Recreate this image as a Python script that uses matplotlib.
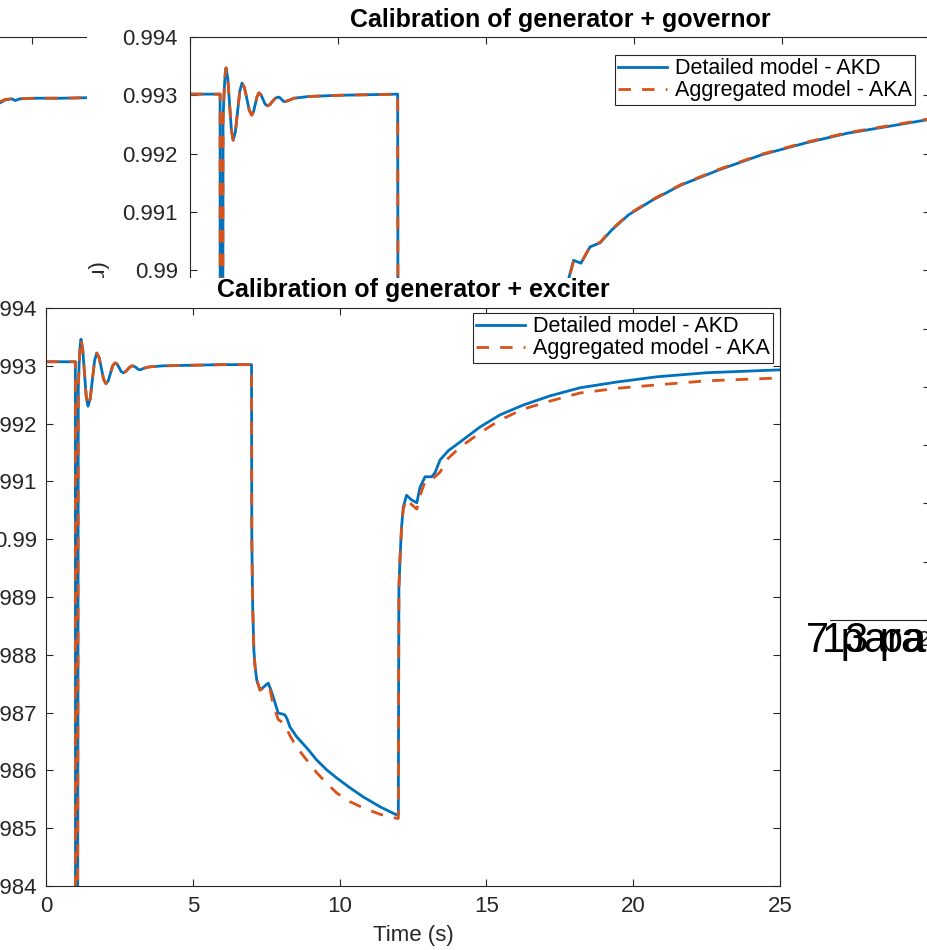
import matplotlib
matplotlib.use('Agg')
import matplotlib.pyplot as plt
from matplotlib.patches import Rectangle

plt.rcParams['font.family'] = ['Liberation Sans', 'DejaVu Sans']

# ---------------- data ----------------
x_ticks = [0, 5, 10, 15, 20, 25]
x_tick_labels = ['0', '5', '10', '15', '20', '25']
y_ticks = [0.984, 0.985, 0.986, 0.987, 0.988, 0.989, 0.990, 0.991, 0.992, 0.993, 0.994]
y_tick_labels = ['0.984', '0.985', '0.986', '0.987', '0.988', '0.989', '0.99',
                 '0.991', '0.992', '0.993', '0.994']
series_labels = ['Detailed model - AKD', 'Aggregated model - AKA']
title_front = 'Calibration of generator + exciter'
title_back = 'Calibration of generator + governor'
x_label = 'Time (s)'
y_label = 'Frequency (pu)'
overlay_texts = ['7 parameters', '13 parameters']

# generator + exciter (front figure)
t_exc = [0, 1.0, 1.01, 1.06, 1.10, 1.13, 1.16, 1.19, 1.25, 1.31, 1.37, 1.43, 1.505, 1.58,
         1.655, 1.73, 1.81, 1.885, 1.96, 2.04, 2.12, 2.195, 2.27, 2.35, 2.42, 2.49, 2.56,
         2.63, 2.71, 2.785, 2.86, 2.94, 3.005, 3.07, 3.135, 3.20, 3.35, 3.50, 4.0, 5.0,
         6.0, 7.0, 7.01, 7.04, 7.08, 7.12, 7.18, 7.29, 7.43, 7.57, 7.64, 7.74, 7.83, 7.91,
         8.02, 8.14, 8.22, 8.31, 8.54, 8.88, 9.22, 9.56, 9.90, 10.35, 10.81, 11.38, 11.94,
         12.0, 12.02, 12.06, 12.11, 12.17, 12.28, 12.45, 12.63, 12.74, 12.91, 13.14,
         13.25, 13.42, 13.7, 14.1, 14.78, 15.46, 16.25, 17.17, 18.19, 19.45, 20.81,
         22.5, 25.0]
exc_akd = [0.99307, 0.99307, 0.975, 0.975, 0.9926, 0.99305, 0.99332, 0.99346, 0.99329,
           0.99288, 0.99247, 0.99230, 0.99243, 0.99276, 0.99309, 0.99322, 0.99314,
           0.99296, 0.99277, 0.99269, 0.99274, 0.99287, 0.99300, 0.99305, 0.99303,
           0.99297, 0.99290, 0.99288, 0.99290, 0.99294, 0.99298, 0.99300, 0.99299,
           0.99297, 0.99294, 0.99293, 0.99296, 0.99298, 0.99300, 0.99301, 0.99302,
           0.99302, 0.98999, 0.98883, 0.98808, 0.98780, 0.98756, 0.98739, 0.98745,
           0.98751, 0.98742, 0.98727, 0.98712, 0.98699, 0.98698, 0.98696, 0.98688,
           0.98675, 0.98658, 0.98639, 0.98618, 0.98601, 0.98587, 0.98570, 0.98554,
           0.98537, 0.98523, 0.98523, 0.98916, 0.98969, 0.99021, 0.99056, 0.99076,
           0.99068, 0.99063, 0.99090, 0.99108, 0.99108, 0.99115, 0.99137, 0.99153,
           0.99168, 0.99194, 0.99215, 0.99232, 0.99248, 0.99262, 0.99272, 0.99281,
           0.99288, 0.99293]
exc_aka = [0.99307, 0.99307, 0.975, 0.975, 0.9926, 0.99305, 0.99332, 0.99346, 0.99329,
           0.99288, 0.99247, 0.99230, 0.99243, 0.99276, 0.99309, 0.99322, 0.99314,
           0.99296, 0.99277, 0.99269, 0.99274, 0.99287, 0.99300, 0.99305, 0.99303,
           0.99297, 0.99290, 0.99288, 0.99290, 0.99294, 0.99298, 0.99300, 0.99299,
           0.99297, 0.99294, 0.99293, 0.99296, 0.99298, 0.99300, 0.99301, 0.99302,
           0.99302, 0.98999, 0.98883, 0.98808, 0.98780, 0.98756, 0.98739, 0.98743,
           0.98748, 0.98738, 0.98712, 0.98700, 0.98688, 0.98684, 0.98678, 0.98670,
           0.98660, 0.98640, 0.98618, 0.98596, 0.98578, 0.98561, 0.98546, 0.98535,
           0.98524, 0.98517, 0.98517, 0.98916, 0.98969, 0.99020, 0.99052, 0.99070,
           0.99060, 0.99052, 0.99075, 0.99100, 0.99103, 0.99108, 0.99116, 0.99140,
           0.99159, 0.99184, 0.99206, 0.99225, 0.99239, 0.99253, 0.99261, 0.99267,
           0.99274, 0.99279]

# generator + governor (back figure)
t_gov = [0, 1.0, 1.01, 1.06, 1.10, 1.14, 1.17, 1.20, 1.26, 1.32, 1.38, 1.44, 1.515, 1.59,
         1.665, 1.74, 1.8225, 1.905, 1.9875, 2.07, 2.13, 2.19, 2.25, 2.31, 2.38, 2.45,
         2.52, 2.59, 2.6825, 2.775, 2.8675, 2.96, 3.0175, 3.075, 3.1325, 3.19, 3.35, 3.50,
         4.0, 5.0, 6.0, 7.0, 7.01, 7.2, 8.0, 9.0, 10.0, 11.0, 12.0, 12.01, 12.3, 12.6,
         12.79, 12.94, 13.19, 13.5, 13.84, 14.23, 14.8, 15.6, 16.57, 17.85, 19.3, 20.76,
         22.2, 23.5, 25.0]
gov_akd = [0.99302, 0.99302, 0.975, 0.975, 0.9926, 0.99310, 0.99335, 0.99347, 0.99329,
           0.99285, 0.99241, 0.99223, 0.99237, 0.99272, 0.99307, 0.99321, 0.99313,
           0.99294, 0.99274, 0.99266, 0.99272, 0.99285, 0.99298, 0.99304, 0.99301,
           0.99293, 0.99285, 0.99282, 0.99284, 0.99290, 0.99295, 0.99297, 0.99296,
           0.99293, 0.99290, 0.99289, 0.99292, 0.99295, 0.99298, 0.99300, 0.99301,
           0.99302, 0.9885, 0.9878, 0.9872, 0.9867, 0.9863, 0.9860, 0.9858, 0.9880,
           0.9888, 0.9894, 0.98988, 0.99017, 0.99012, 0.99040, 0.99047, 0.99069,
           0.99095, 0.99120, 0.99146, 0.99172, 0.99198, 0.99218, 0.99235, 0.99246,
           0.99259]
gov_aka = [0.99302, 0.99302, 0.975, 0.975, 0.9926, 0.99310, 0.99335, 0.99347, 0.99329,
           0.99285, 0.99241, 0.99223, 0.99237, 0.99272, 0.99307, 0.99321, 0.99313,
           0.99294, 0.99274, 0.99266, 0.99272, 0.99285, 0.99298, 0.99304, 0.99301,
           0.99293, 0.99285, 0.99282, 0.99284, 0.99290, 0.99295, 0.99297, 0.99296,
           0.99293, 0.99290, 0.99289, 0.99292, 0.99295, 0.99298, 0.99300, 0.99301,
           0.99302, 0.9885, 0.9878, 0.9872, 0.9867, 0.9863, 0.9860, 0.9858, 0.9880,
           0.9888, 0.9894, 0.98986, 0.99015, 0.99012, 0.99041, 0.99048, 0.99070,
           0.99096, 0.99121, 0.99147, 0.99173, 0.99199, 0.99219, 0.99236, 0.99247,
           0.99260]

# third (mostly hidden) figure at the top left
t_frag = [0, 1.0, 1.01, 1.06, 1.10, 1.20, 1.45, 1.75, 2.10, 2.45, 2.80, 3.15, 3.50, 3.92,
          4.09, 4.32, 4.43, 4.60, 5.10, 6.0, 7.0, 7.01, 9.0, 12.0, 12.01, 15.0, 20.0, 25.0]
frag_akd = [0.99300, 0.99300, 0.975, 0.975, 0.9926, 0.9934, 0.9922, 0.9932, 0.9926,
            0.9931, 0.9927, 0.9930, 0.9928, 0.99287, 0.99292, 0.99294, 0.99291, 0.99294,
            0.99295, 0.99295, 0.99296, 0.9870, 0.9862, 0.9857, 0.9890, 0.9915, 0.9925,
            0.9928]
frag_aka = [0.99300, 0.99300, 0.975, 0.975, 0.9926, 0.9934, 0.9922, 0.9932, 0.9926,
            0.9931, 0.9927, 0.9930, 0.9928, 0.99289, 0.99293, 0.99294, 0.99292, 0.99294,
            0.99295, 0.99295, 0.99296, 0.9870, 0.9862, 0.9857, 0.9890, 0.9915, 0.9925,
            0.9928]

# ---------------- drawing ----------------
W, H = 928, 950
fig = plt.figure(figsize=(W / 100, H / 100), dpi=100)
fig.patch.set_facecolor('white')

BLUE = '#0072BD'
ORANGE = '#D95319'
AXC = '#262626'
DASH = (0, (4.5, 4.0))


def rect_px(l, t, r, b):
    return [l / W, 1 - b / H, (r - l) / W, (b - t) / H]


def style(ax, ypad, xpad):
    ax.set_xlim(0, 25)
    ax.set_ylim(0.984, 0.994)
    ax.set_xticks(x_ticks)
    ax.set_xticklabels(x_tick_labels)
    ax.set_yticks(y_ticks)
    ax.set_yticklabels(y_tick_labels)
    ax.tick_params(direction='in', length=5, width=0.8, colors=AXC, labelcolor=AXC,
                   labelsize=16, top=True, right=True)
    ax.tick_params(axis='y', pad=ypad)
    ax.tick_params(axis='x', pad=xpad)
    for s in ax.spines.values():
        s.set_color(AXC)
        s.set_linewidth(0.8)
    ax.set_facecolor('white')


def draw_lines(ax, t, a, b):
    ax.plot(t, a, color=BLUE, lw=2.0, label=series_labels[0])
    ax.plot(t, b, color=ORANGE, lw=2.0, ls=DASH, label=series_labels[1])


def legend(ax, anchor):
    leg = ax.legend(loc='upper right', bbox_to_anchor=anchor, fontsize=15.5,
                    frameon=True, fancybox=False, edgecolor=AXC, framealpha=1,
                    borderaxespad=0, borderpad=0.15, handlelength=2.3,
                    handletextpad=0.35, labelspacing=0.05)
    leg.get_frame().set_linewidth(0.8)
    for txt in leg.get_texts():
        txt.set_color('black')


# fragment figure (bottom-most)
ax_f = fig.add_axes(rect_px(-116, 37, 624, 620))
ax_f.set_zorder(1)
style(ax_f, 7, 7)
draw_lines(ax_f, t_frag, frag_akd, frag_aka)

# back figure background
fig.add_artist(Rectangle((87 / W, 0), 1 - 87 / W, 1, transform=fig.transFigure,
                         facecolor='white', edgecolor='none', zorder=2))

# back figure (governor)
ax_b = fig.add_axes(rect_px(190.5, 37, 930.5, 620))
ax_b.set_zorder(3)
style(ax_b, 9, 7)
draw_lines(ax_b, t_gov, gov_akd, gov_aka)
ax_b.set_title(title_back, fontsize=18, fontweight='bold', pad=7.5, color='black')
ax_b.set_xlabel(x_label, fontsize=16, color=AXC)
ax_b.set_ylabel(y_label, fontsize=16, color=AXC)
ax_b.yaxis.set_label_coords(-0.109, 0.487)
legend(ax_b, (0.979, 0.969))

# front figure background
fig.add_artist(Rectangle((0, 0), 830 / W, 1 - 278 / H, transform=fig.transFigure,
                         facecolor='white', edgecolor='none', zorder=4))

# front figure (exciter)
ax_e = fig.add_axes(rect_px(46, 308, 780, 886))
ax_e.set_zorder(5)
style(ax_e, 6.5, 7)
draw_lines(ax_e, t_exc, exc_akd, exc_aka)
ax_e.set_title(title_front, fontsize=18, fontweight='bold', pad=8, color='black')
ax_e.set_xlabel(x_label, fontsize=16, color=AXC)
ax_e.xaxis.set_label_coords(0.5, -(925 - 886) / 578)
ax_e.set_ylabel(y_label, fontsize=16, color=AXC)
ax_e.yaxis.set_label_coords(-0.12, 0.5)
legend(ax_e, (0.9905, 0.9913))

# overlapping stray texts at the right
fig.text(806 / W, 1 - 652 / H, overlay_texts[0], fontsize=30, va='baseline',
         ha='left', color='black', zorder=6)
fig.text(822 / W, 1 - 652 / H, overlay_texts[1], fontsize=30, va='baseline',
         ha='left', color='black', zorder=6)

fig.savefig('out.png', dpi=100, facecolor='white')
